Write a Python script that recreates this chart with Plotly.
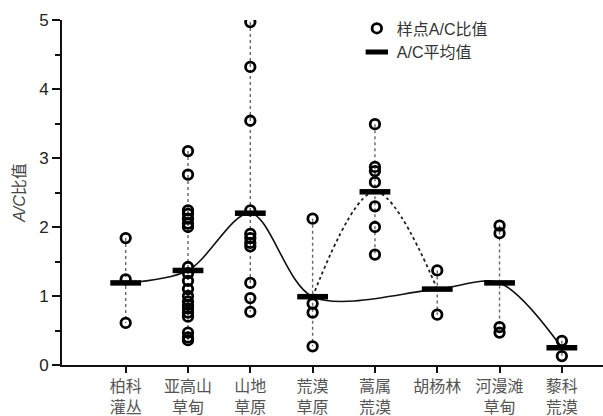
import plotly.graph_objects as go

# Vegetation types (x-axis categories)
categories = ["柏科<br>灌丛", "亚高山<br>草甸", "山地<br>草原", "荒漠<br>草原",
              "蒿属<br>荒漠", "胡杨林", "河漫滩<br>草甸", "藜科<br>荒漠"]

# A/C ratio of each sample point, per vegetation type
ac_cypress_shrub = [1.84, 1.24, 0.61]
ac_subalpine_meadow = [3.10, 2.76, 2.24, 2.19, 2.12, 2.05, 2.00, 1.42, 1.33, 1.22,
                       1.10, 1.00, 0.92, 0.87, 0.82, 0.76, 0.70, 0.47, 0.40, 0.36]
ac_mountain_steppe = [4.97, 4.32, 3.54, 2.24, 1.90, 1.84, 1.77, 1.72, 1.19, 0.97, 0.77]
ac_desert_steppe = [2.12, 0.89, 0.76, 0.27]
ac_artemisia_desert = [3.49, 2.87, 2.81, 2.65, 2.30, 2.00, 1.60]
ac_populus_forest = [1.37, 0.73]
ac_floodplain_meadow = [2.02, 1.91, 0.55, 0.47]
ac_chenopod_desert = [0.35, 0.13]

samples = [ac_cypress_shrub, ac_subalpine_meadow, ac_mountain_steppe, ac_desert_steppe,
           ac_artemisia_desert, ac_populus_forest, ac_floodplain_meadow, ac_chenopod_desert]

# Mean A/C ratio per vegetation type
ac_mean = [1.19, 1.37, 2.20, 0.99, 2.51, 1.10, 1.19, 0.25]

positions = list(range(1, len(categories) + 1))

# Dotted vertical ranges (min to max) for each type
vx, vy = [], []
for p, vals in zip(positions, samples):
    vx += [p, p, None]
    vy += [max(vals), min(vals), None]

# Scatter points
sx, sy = [], []
for p, vals in zip(positions, samples):
    sx += [p] * len(vals)
    sy += vals

# Main trend skips the Artemisia desert; a dotted branch passes through it
main_idx = [0, 1, 2, 3, 5, 6, 7]
branch_idx = [3, 4, 5]

fig = go.Figure()
fig.add_trace(go.Scatter(x=vx, y=vy, mode="lines", showlegend=False,
                         line=dict(color="#666", width=1.4, dash="dot"),
                         hoverinfo="skip"))
fig.add_trace(go.Scatter(x=[positions[i] for i in main_idx],
                         y=[ac_mean[i] for i in main_idx],
                         mode="lines", showlegend=False,
                         line=dict(color="#111", width=1.6, shape="spline", smoothing=0.9)))
fig.add_trace(go.Scatter(x=[positions[i] for i in branch_idx],
                         y=[ac_mean[i] for i in branch_idx],
                         mode="lines", showlegend=False,
                         line=dict(color="#222", width=1.8, shape="spline",
                                   smoothing=1, dash="dot")))
fig.add_trace(go.Scatter(x=sx, y=sy, mode="markers", name="样点A/C比值",
                         marker=dict(symbol="circle-open", size=9.5, color="#000",
                                     line=dict(width=2.8, color="#000"))))
fig.add_trace(go.Scatter(x=positions, y=ac_mean, mode="markers", name="A/C平均值",
                         marker=dict(symbol="line-ew", size=22, color="#000",
                                     line=dict(width=5.5, color="#000"))))

font_family = "Liberation Sans, Arial, Noto Sans CJK SC, sans-serif"

fig.update_layout(
    width=603, height=416,
    margin=dict(l=62, r=0, t=20, b=51),
    paper_bgcolor="white", plot_bgcolor="white",
    font=dict(family=font_family, color="#222"),
    showlegend=True,
    legend=dict(x=0.545, y=1.025, xanchor="left", yanchor="top",
                bgcolor="rgba(0,0,0,0)", font=dict(size=16, color="#333"),
                tracegroupgap=0),
    xaxis=dict(range=[-0.022, 8.66], tickmode="array", tickvals=positions,
               ticktext=categories, showgrid=False, zeroline=False,
               showline=True, linecolor="#111", linewidth=2, automargin=False,
               ticks="outside", ticklen=6, tickwidth=2, tickcolor="#111",
               tickfont=dict(size=16, color="#555", family=font_family)),
    yaxis=dict(range=[0, 5], tickvals=[0, 1, 2, 3, 4, 5], showgrid=False,
               zeroline=False, showline=True, linecolor="#111", linewidth=2,
               automargin=False,
               ticks="outside", ticklen=8, tickwidth=2, tickcolor="#111",
               tickfont=dict(size=17, color="#222"),
               minor=dict(tickvals=[0.5, 1.5, 2.5, 3.5, 4.5], ticks="outside",
                          ticklen=5, tickwidth=2, tickcolor="#111"),
               title=dict(text="<i>A/C</i>比值", font=dict(size=16, color="#444"),
                          standoff=10)),
)

fig.write_html("out.html")
